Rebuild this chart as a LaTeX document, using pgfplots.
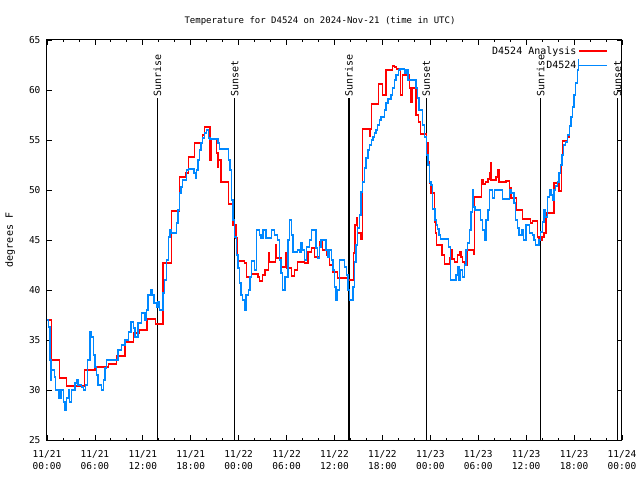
\documentclass[border=0pt]{standalone}
\usepackage{fontspec}
\setmainfont{DejaVu Sans Mono}
\usepackage{pgfplots}
\pgfplotsset{compat=1.18}
\definecolor{gpblue}{RGB}{0,136,255}
\definecolor{gpred}{RGB}{255,0,0}
\begin{document}
\begin{tikzpicture}[x=1pt,y=1pt]
\path[use as bounding box] (0,0) rectangle (640,480);
\begin{axis}[
  at={(47pt,40pt)}, anchor=south west,
  scale only axis, width=575pt, height=400pt,
  xmin=0, xmax=72, ymin=25, ymax=65,
  xtick={0,6,...,72},
  minor xtick={0,2,...,72},
  xticklabels={{11/21\\00:00},{11/21\\06:00},{11/21\\12:00},{11/21\\18:00},{11/22\\00:00},{11/22\\06:00},{11/22\\12:00},{11/22\\18:00},{11/23\\00:00},{11/23\\06:00},{11/23\\12:00},{11/23\\18:00},{11/24\\00:00}},
  xticklabel style={align=center, font=\fontsize{9.5}{12}\selectfont, yshift=-7pt},
  yticklabel style={font=\fontsize{9.5}{12}\selectfont, xshift=-3pt},
  ytick={25,30,...,65},
  tick align=inside,
  major tick length=5pt, minor tick length=2.5pt,
  tick style={black, line width=0.8pt},
  axis line style={line width=1pt},
  font=\fontsize{9.5}{12}\selectfont,
  /pgf/number format/assume math mode=true,
  title={Temperature for D4524 on 2024-Nov-21 (time in UTC)},
  title style={at={(axis description cs:0.4748,1.025)}, anchor=base, font=\fontsize{9}{11}\selectfont},
  ylabel={degrees F},
  ylabel style={at={(axis description cs:-0.0643,0.5)}, anchor=center, font=\fontsize{10}{12}\selectfont},
  legend style={at={(axis description cs:0.981,0.994)}, anchor=north east, draw=none, fill=none,
    legend cell align=right, row sep=1pt, font=\fontsize{10}{12}\selectfont},
  legend plot pos=right,
]
% Sunrise / sunset lines
\addplot[black, line width=1.1pt, forget plot] coordinates {(13.81,25) (13.81,59.2)} node[pos=1, rotate=90, anchor=west, inner sep=1pt, font=\fontsize{10}{12}\selectfont] {Sunrise};
\addplot[black, line width=1.1pt, forget plot] coordinates {(23.5,25) (23.5,59.2)} node[pos=1, rotate=90, anchor=west, inner sep=1pt, font=\fontsize{10}{12}\selectfont] {Sunset};
\addplot[black, line width=1.1pt, forget plot] coordinates {(37.81,25) (37.81,59.2)} node[pos=1, rotate=90, anchor=west, inner sep=1pt, font=\fontsize{10}{12}\selectfont] {Sunrise};
\addplot[black, line width=1.1pt, forget plot] coordinates {(47.5,25) (47.5,59.2)} node[pos=1, rotate=90, anchor=west, inner sep=1pt, font=\fontsize{10}{12}\selectfont] {Sunset};
\addplot[black, line width=1.1pt, forget plot] coordinates {(61.81,25) (61.81,59.2)} node[pos=1, rotate=90, anchor=west, inner sep=1pt, font=\fontsize{10}{12}\selectfont] {Sunrise};
\addplot[black, line width=1.1pt, forget plot] coordinates {(71.44,25) (71.44,59.2)} node[pos=1, rotate=90, anchor=west, inner sep=1pt, font=\fontsize{10}{12}\selectfont] {Sunset};

% D4524 Analysis (red)
\addplot[const plot, gpred, line width=1.4pt,
  legend image code/.code={\draw[gpred, line width=1.4pt] (0pt,0pt) -- (28pt,0pt);}] coordinates {
(0,37.0) (0.58,33.0) (1.58,31.2) (2.46,30.4) (4.67,32.0) (6.0,32.3) (7.67,32.6) (8.7,33.4)
(9.75,34.8) (10.8,35.7) (11.6,36.0) (12.5,37.1) (13.6,36.6) (14.54,42.7) (15.6,47.9) (16.6,51.3)
(17.4,51.7) (17.7,53.3) (18.5,54.7) (19.5,55.5) (19.75,56.3) (20.4,53.0) (20.55,55.1) (21.2,53.7)
(21.4,52.3) (21.5,53.0) (21.8,50.8) (22.75,48.6) (23.3,46.5) (23.65,45.2) (23.85,42.9) (24.75,42.7)
(24.96,41.3) (25.6,41.6) (26.4,41.3) (26.6,40.9) (27.0,41.5) (27.3,42.0) (27.7,43.7) (27.85,42.8)
(28.6,44.5) (28.7,43.2) (29.3,42.3) (29.9,43.7) (30.0,42.2) (30.6,41.4) (31.0,42.0) (31.4,42.8)
(32.25,42.7) (32.7,43.8) (33.1,44.2) (33.5,43.3) (34.1,44.8) (34.5,44.0) (35.0,43.5) (35.4,42.5)
(35.8,41.8) (36.4,41.2) (37.7,41.0) (38.4,43.7) (38.55,46.5) (38.75,47.2) (38.9,45.7) (39.3,45.1)
(39.5,56.1) (40.4,55.4) (40.5,56.1) (40.6,58.6) (41.5,60.6) (42.04,59.5) (42.46,62.0) (43.3,62.4)
(43.5,62.3) (43.8,62.1) (44.3,59.5) (44.5,61.5) (45.4,60.2) (45.6,58.8) (45.7,60.2) (46.2,57.5)
(46.5,56.8) (46.8,55.6) (47.5,54.7) (47.7,52.8) (47.9,50.7) (48.1,49.7) (48.5,46.8) (48.65,45.7)
(48.79,44.5) (49.46,43.5) (49.75,42.6) (50.375,43.2) (50.55,44.0) (50.7,43.1) (51.0,42.8) (51.4,43.5)
(51.7,43.8) (51.85,43.3) (52.04,42.8) (52.33,42.5) (52.67,44.0) (53.375,43.6) (53.5,49.3) (54.4,51.0)
(54.6,50.6) (54.9,50.8) (55.2,51.1) (55.375,51.7) (55.55,52.7) (55.62,51.0) (56.2,51.3) (56.4,52.0)
(56.6,50.8) (57.46,50.9) (57.9,50.2) (58.08,49.2) (58.8,48.0) (59.54,47.1) (60.58,46.7) (60.79,46.9)
(61.4,45.3) (61.6,45.0) (62.0,45.3) (62.25,45.7) (62.46,47.7) (63.5,50.7) (64.1,49.9) (64.4,53.0)
(64.54,54.9) (65.2,55.3) (65.4,55.5) (65.5,55.5)
};
\addlegendentry{D4524 Analysis}

% D4524 (blue)
\addplot[const plot, gpblue, line width=1.4pt,
  legend image code/.code={\draw[gpblue, line width=1.4pt] (0pt,0pt) -- (28pt,0pt);}] coordinates {
(0,37.0) (0.2,36.3) (0.375,33.0) (0.5,31.0) (0.58,32.0) (0.92,31.3) (1.08,30.0) (1.5,29.2)
(1.75,30.0) (2.04,28.8) (2.25,28.0) (2.46,29.2) (2.67,30.0) (2.85,28.8) (3.08,30.0) (3.5,30.7)
(3.7,31.0) (3.9,30.5) (4.33,30.3) (4.6,30.0) (4.83,30.5) (5.08,33.0) (5.375,35.8) (5.58,35.3)
(5.8,33.5) (6.0,32.3) (6.2,31.5) (6.4,30.5) (6.8,30.0) (7.05,31.0) (7.25,32.2) (7.46,33.0)
(8.9,34.0) (9.33,34.5) (9.75,35.0) (10.17,35.8) (10.5,36.8) (10.8,36.2) (11.0,35.3) (11.4,36.7)
(11.8,37.7) (12.25,37.0) (12.45,38.0) (12.67,39.5) (13.0,40.0) (13.2,39.5) (13.4,38.7) (13.7,38.3)
(13.9,38.8) (14.1,38.0) (14.54,39.7) (14.75,41.0) (15.0,43.0) (15.2,45.3) (15.4,46.0) (15.6,45.7)
(16.2,46.7) (16.4,48.0) (16.6,49.7) (16.8,50.3) (17.0,51.0) (17.5,52.0) (17.7,52.1) (18.4,51.7)
(18.6,51.2) (18.7,52.0) (18.9,53.0) (19.1,54.0) (19.3,54.7) (19.5,55.2) (19.75,55.7) (19.96,56.0)
(20.2,55.2) (20.4,55.1) (21.4,54.7) (21.6,54.1) (22.7,53.0) (22.9,52.0) (23.1,49.0) (23.3,47.0)
(23.5,45.3) (23.7,43.5) (23.9,42.2) (24.1,40.7) (24.3,39.5) (24.5,39.0) (24.75,38.0) (24.9,39.5)
(25.2,40.0) (25.4,41.3) (25.6,42.9) (26.0,42.0) (26.2,46.0) (26.6,45.5) (26.8,45.2) (27.04,46.0)
(27.4,45.2) (28.1,46.0) (28.5,45.5) (28.9,45.0) (29.1,43.0) (29.3,41.7) (29.5,40.0) (29.8,41.3)
(30.2,45.0) (30.4,47.0) (30.6,45.5) (30.8,43.8) (31.4,44.0) (31.6,43.8) (31.8,44.7) (32.0,44.0)
(32.25,43.0) (32.5,44.3) (32.9,45.0) (33.1,46.0) (33.7,44.2) (33.9,43.2) (34.1,44.3) (34.3,45.0)
(34.96,44.0) (35.2,43.3) (35.4,44.0) (35.6,43.0) (35.8,42.0) (36.0,40.3) (36.2,39.0) (36.4,40.0)
(36.6,43.0) (37.25,42.3) (37.5,41.5) (37.7,40.0) (37.9,39.0) (38.3,40.3) (38.5,42.8) (38.7,44.5)
(38.9,46.2) (39.1,47.5) (39.3,49.8) (39.5,50.8) (39.75,52.2) (39.96,53.2) (40.2,54.0) (40.4,54.5)
(40.6,55.0) (40.8,55.3) (41.0,55.7) (41.2,56.0) (41.4,56.5) (41.6,57.0) (41.8,57.3) (42.25,58.0)
(42.46,58.7) (42.7,59.1) (43.1,59.5) (43.3,60.2) (43.5,61.0) (43.7,61.5) (44.0,62.0) (44.2,62.1)
(44.75,61.7) (44.95,62.0) (45.2,61.0) (46.2,60.2) (46.4,59.2) (46.6,58.0) (47.04,56.5) (47.25,55.3)
(47.5,53.5) (47.7,52.5) (47.9,50.8) (48.1,50.5) (48.3,48.1) (48.6,47.0) (48.75,46.5) (48.9,46.1)
(49.1,45.5) (49.3,45.1) (50.3,44.3) (50.5,41.0) (51.2,41.5) (51.4,42.3) (51.6,41.0) (51.8,42.0)
(52.0,41.3) (52.25,42.5) (52.46,44.0) (52.67,44.7) (52.9,46.0) (53.1,47.8) (53.3,50.0) (53.4,48.3)
(53.6,48.0) (54.3,47.0) (54.5,46.0) (54.75,45.0) (54.96,47.0) (55.2,48.0) (55.4,50.0) (55.8,49.2)
(56.0,50.0) (57.04,49.1) (57.9,50.0) (58.1,49.7) (58.5,48.7) (58.7,47.0) (58.9,46.2) (59.1,45.5)
(59.5,46.0) (59.7,45.0) (59.96,46.5) (60.4,45.7) (60.8,45.5) (61.0,45.0) (61.2,44.5) (61.6,45.0)
(61.8,45.8) (62.05,46.8) (62.25,48.0) (62.45,47.3) (62.7,49.3) (62.9,50.0) (63.1,49.5) (63.3,49.0)
(63.5,50.0) (63.7,50.4) (63.9,50.8) (64.1,51.7) (64.3,52.5) (64.5,53.5) (64.7,54.5) (64.96,54.8)
(65.2,55.5) (65.4,56.4) (65.6,57.3) (65.8,58.3) (66.0,59.5) (66.2,60.7) (66.4,62.0) (66.55,63.0)
(66.65,63.0)
};
\addlegendentry{D4524}
\end{axis}
\end{tikzpicture}
\end{document}
